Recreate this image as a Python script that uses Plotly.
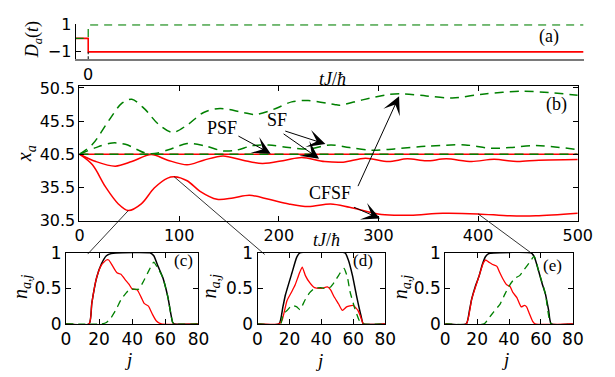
import plotly.graph_objects as go

W, H = 615, 377

# ---------------- data ----------------
# panel (a): driving D_a(t)
ta = [-12.7, 0, 0, 500]
Da_red = [0, 0, -1, -1]
Da_green = [0, 0, 1, 1]
t_mark = [0, 0]
D_mark = [-1.55, -1]

# panel (b): centre of mass x_a
t_gu = [0, 13, 29.5, 42.6, 52.5, 65.6, 78.7, 93.4, 108, 124.6, 141, 164, 177, 197, 213, 229.5, 255.7,
        261, 284, 309.7, 325.8, 348, 374, 406.4, 445, 471, 500]
x_gu = [40.5, 42.0, 45.6, 48.2, 48.8, 47.3, 45.1, 43.8, 44.9, 46.8, 47.4, 46.8, 46.5, 47.4, 48.4, 48.6, 48.0,
        47.9, 48.7, 49.5, 49.6, 49.3, 49.0, 49.6, 50.0, 49.8, 49.4]

t_gl = [0, 16.4, 32.8, 46, 65.6, 75.4, 91.8, 108, 124.6, 144, 157, 174, 190, 210, 229.5, 252, 271, 293.5,
        316, 348, 387, 413, 432, 458, 500]
x_gl = [40.5, 41.5, 42.2, 42.0, 40.7, 40.6, 41.3, 42.1, 41.8, 41.0, 41.1, 41.8, 41.9, 41.5, 41.3, 41.9, 41.5,
        41.1, 41.3, 41.7, 41.9, 41.4, 41.5, 41.8, 41.2]

t_rm = [0, 16.4, 36, 52.5, 72, 88.5, 108, 124.6, 144, 164, 183.6, 206.6, 223, 246, 264.5, 287, 310, 329,
        348, 368, 393.5, 416, 439, 461, 500]
x_rm = [40.5, 39.4, 38.7, 39.4, 40.45, 39.6, 38.9, 39.6, 40.25, 39.6, 39.1, 39.6, 40.0, 39.4, 39.3, 39.9,
        39.4, 39.8, 39.5, 39.8, 39.4, 39.74, 39.4, 39.6, 39.7]

t_rl = [0, 13, 26, 39, 49, 62, 75, 88.5, 95, 108, 121, 138, 154, 170.5, 190, 210, 229.5, 252, 271, 303,
        332, 364.5, 400, 432, 458, 500]
x_rl = [40.5, 38.9, 35.6, 33.0, 32.0, 33.0, 35.4, 36.9, 37.1, 36.5, 34.9, 33.7, 33.9, 34.3, 33.7, 33.0,
        32.6, 33.0, 32.5, 31.4, 31.3, 31.6, 31.5, 31.2, 31.2, 31.6]

t_flat = [0, 500]
x_flat = [40.5, 40.5]

# snapshot times (points on lower red curve) for panels c, d, e
snap_t = [49, 95, 400]
snap_x = [32.0, 37.1, 31.5]

# panel (c)
jc_k = [0, 14, 15.6, 18.5, 21.5, 24.4, 27.3, 30.2, 50.7, 53, 55.6, 58.5, 61.5, 64.4, 65.4, 80]
nc_k = [0, 0, 0.29, 0.65, 0.85, 0.96, 0.99, 1.0, 1.0, 0.96, 0.81, 0.65, 0.38, 0.02, 0, 0]
jc_r = [0, 14, 15.6, 18.5, 21.5, 24.4, 25.8, 28.3, 30.8, 33.2, 35.5, 38, 40, 42.9, 45.3, 47.2, 49.8, 52.3,
        54.6, 57.6, 80]
nc_r = [0, 0, 0.29, 0.65, 0.83, 0.9, 0.9, 0.81, 0.72, 0.7, 0.63, 0.56, 0.49, 0.48, 0.38, 0.29, 0.25, 0.13,
        0.04, 0, 0]
jc_g = [0, 21.5, 24.4, 27.3, 30.2, 33.2, 36.1, 38.6, 43.9, 46.8, 49.8, 52.3, 53, 55.6, 58.5, 61.5, 64.4,
        65.4, 80]
nc_g = [0, 0, 0.02, 0.09, 0.2, 0.34, 0.43, 0.49, 0.49, 0.6, 0.74, 0.85, 0.87, 0.78, 0.65, 0.38, 0.02, 0, 0]

# panel (d)
jd_k = [0, 13.5, 15.9, 17.5, 21.6, 24.6, 26.6, 54.8, 56.9, 59.5, 61.9, 64.9, 66.3, 80]
nd_k = [0, 0, 0.24, 0.41, 0.72, 0.94, 1.0, 1.0, 0.9, 0.68, 0.41, 0.11, 0, 0]
jd_r = [0, 13.5, 15.5, 18.5, 21.6, 23.6, 26, 28, 30, 32.7, 35.7, 39.7, 43.8, 45.8, 47.8, 50.8, 53.2, 55.8,
        59.9, 62.9, 64.9, 66.3, 80]
nd_r = [0, 0, 0.06, 0.33, 0.46, 0.55, 0.7, 0.8, 0.68, 0.58, 0.51, 0.5, 0.52, 0.48, 0.39, 0.28, 0.19, 0.24,
        0.26, 0.19, 0.08, 0, 0]
jd_g = [0, 14.5, 15.9, 18.5, 21.6, 24.6, 26.6, 29.6, 32.7, 35.7, 39.7, 42.7, 45.8, 48.8, 51.8, 54.2, 56.3,
        57.9, 60.9, 63.9, 65.9, 80]
nd_g = [0, 0, 0.13, 0.19, 0.26, 0.24, 0.2, 0.33, 0.44, 0.5, 0.51, 0.5, 0.52, 0.61, 0.72, 0.78, 0.66, 0.46,
        0.22, 0.04, 0, 0]

# panel (e)
je_k = [0, 13.2, 15.2, 16.6, 19.2, 21.3, 23.3, 25.3, 27.3, 30.4, 53.6, 55.7, 58.7, 60.7, 62.8, 64.8, 66.4, 80]
ne_k = [0, 0, 0.19, 0.35, 0.55, 0.68, 0.84, 0.95, 0.99, 1.0, 1.0, 0.95, 0.73, 0.57, 0.42, 0.19, 0, 0]
je_r = [0, 13.2, 16.6, 21.3, 23.9, 25.3, 27.3, 29.4, 32.4, 34, 36, 38.5, 40.5, 42.5, 44.9, 47.6, 49.6, 51,
        52.6, 54.7, 56.3, 80]
ne_r = [0, 0, 0.35, 0.68, 0.86, 0.9, 0.87, 0.84, 0.81, 0.73, 0.64, 0.55, 0.53, 0.44, 0.37, 0.24, 0.26, 0.24,
        0.15, 0.04, 0, 0]
je_g = [0, 24.3, 27.3, 30.4, 34.4, 37.4, 40.5, 43.5, 46.6, 49.6, 52.6, 55.7, 58.7, 62.8, 66.4, 80]
ne_g = [0, 0, 0.08, 0.17, 0.28, 0.42, 0.55, 0.64, 0.68, 0.77, 0.86, 0.95, 0.73, 0.42, 0, 0]

# ticks
xa_tick = [0]
ya_tick = [-1, 1]
ya_text = ["\u22121", "1"]
xb_tick = [0, 100, 200, 300, 400, 500]
yb_tick = [30.5, 35.5, 40.5, 45.5, 50.5]
xs_tick = [0, 20, 40, 60, 80]
ys_tick = [0, 0.5, 1]
ys_text = ["0", "0.5", "1"]

# ---------------- styling ----------------
RED = "#ff0000"
GREEN = "#008000"
TICKFONT = dict(family="DejaVu Sans, sans-serif", size=16, color="black")
SMALLTICK = dict(family="DejaVu Sans, sans-serif", size=17, color="black")
SERIF = "Liberation Serif, Times New Roman, serif"


def px(x):
    return x / W


def py(y):
    return 1 - y / H


fig = go.Figure()

# ----- panel (a)
fig.add_trace(go.Scatter(x=ta, y=Da_red, xaxis="x", yaxis="y", mode="lines",
                         line=dict(color=RED, width=1.6)))
fig.add_trace(go.Scatter(x=ta, y=Da_green, xaxis="x", yaxis="y", mode="lines",
                         line=dict(color=GREEN, width=1.2, dash="8px,6px")))
fig.add_trace(go.Scatter(x=t_mark, y=D_mark, xaxis="x", yaxis="y", mode="lines",
                         line=dict(color="black", width=1, dash="3px,2px")))

# ----- panel (b)
for tt, xx in [(t_flat, x_flat), (t_rm, x_rm), (t_rl, x_rl)]:
    fig.add_trace(go.Scatter(x=tt, y=xx, xaxis="x2", yaxis="y2", mode="lines",
                             line=dict(color=RED, width=1.5, shape="spline", smoothing=0.9)))
for tt, xx in [(t_flat, x_flat), (t_gl, x_gl), (t_gu, x_gu)]:
    fig.add_trace(go.Scatter(x=tt, y=xx, xaxis="x2", yaxis="y2", mode="lines",
                             line=dict(color=GREEN, width=1.5, dash="9px,6px", shape="spline", smoothing=0.9)))

# ----- panels (c),(d),(e)
for k, (jr, nr, jg, ng, jk, nk) in enumerate([(jc_r, nc_r, jc_g, nc_g, jc_k, nc_k),
                                               (jd_r, nd_r, jd_g, nd_g, jd_k, nd_k),
                                               (je_r, ne_r, je_g, ne_g, je_k, ne_k)]):
    xa, ya = "x%d" % (k + 3), "y%d" % (k + 3)
    fig.add_trace(go.Scatter(x=jk, y=nk, xaxis=xa, yaxis=ya, mode="lines",
                             line=dict(color="black", width=1.5, shape="spline", smoothing=0.5)))
    fig.add_trace(go.Scatter(x=jr, y=nr, xaxis=xa, yaxis=ya, mode="lines",
                             line=dict(color=RED, width=1.3, shape="spline", smoothing=0.5)))
    fig.add_trace(go.Scatter(x=jg, y=ng, xaxis=xa, yaxis=ya, mode="lines",
                             line=dict(color=GREEN, width=1.3, dash="7px,5px", shape="spline", smoothing=0.5)))

# ---------------- axes ----------------
common = dict(showgrid=False, zeroline=False, ticks="inside", ticklen=5, tickcolor="black",
              tickfont=TICKFONT, linecolor="black", linewidth=1, showline=True)

layout = dict(
    width=W, height=H, autosize=False,
    margin=dict(l=0, r=0, t=0, b=0),
    paper_bgcolor="white", plot_bgcolor="rgba(0,0,0,0)",
    showlegend=False,
    xaxis=dict(common, domain=[px(73), px(598)], range=[-12.7, 500], tickvals=xa_tick,
               linecolor="#7a7a7a", linewidth=2, anchor="y", ticks=""),
    yaxis=dict(common, domain=[py(52), py(15)], range=[-1.55, 1.05], tickvals=ya_tick,
               ticktext=ya_text, anchor="x"),
    xaxis2=dict(common, domain=[px(77), px(592)], range=[0, 500], tickvals=xb_tick,
                mirror="ticks", anchor="y2"),
    yaxis2=dict(common, domain=[py(222.3), py(80)], range=[30.5, 50.83], tickvals=yb_tick,
                mirror="ticks", anchor="x2"),
)
xdoms = [(63, 200), (261, 393), (455, 587)]
for k, (l, r) in enumerate(xdoms):
    n = k + 3
    layout["xaxis%d" % n] = dict(common, domain=[px(l), px(r)], range=[0, 80], tickvals=xs_tick,
                                 mirror="ticks", anchor="y%d" % n, tickfont=SMALLTICK)
    layout["yaxis%d" % n] = dict(common, domain=[py(331.5), py(256.5)], range=[0, 1], tickvals=ys_tick,
                                 ticktext=ys_text, mirror="ticks", anchor="x%d" % n, tickfont=SMALLTICK)
fig.update_layout(**layout)

# ---------------- annotations ----------------
ann = []


def label(text, x, y, size=18, angle=0):
    ann.append(dict(text=text, x=px(x), y=py(y), xref="paper", yref="paper", showarrow=False,
                    font=dict(family=SERIF, size=size, color="black"), textangle=angle,
                    xanchor="center", yanchor="middle"))


tJ = "<i>tJ</i>/<i>\u0127</i>"
label("(a)", 562, 28, 18)
label("(b)", 570, 100, 18)
label("(c)", 185, 265, 17)
label("(d)", 370, 265, 17)
label("(e)", 566, 270, 17)
label(tJ, 338, 73, 18)
label(tJ, 332, 243, 18)
label("<i>D<sub>a</sub></i>(<i>t</i>)", 29, 32, 18, -90)
label("<i>x<sub>a</sub></i>", 22, 152, 20, -90)
for xx in (17, 212, 410):
    label("<i>n<sub>a,j</sub></i>", xx, 292, 20, -90)
for xx, yy in ((127, 369), (325, 370), (517, 369)):
    label("<i>j</i>", xx, yy, 19)

# text labels in panel (b)
for txt, t0, x0 in (("PSF", 143, 44.4), ("SF", 198.5, 45.6), ("CFSF", 251.6, 34.7)):
    ann.append(dict(text=txt, x=t0, y=x0, xref="x2", yref="y2", showarrow=False,
                    font=dict(family=SERIF, size=18, color="black")))

# arrows (head, tail) in data coords of panel (b)
arrows = [((191.9, 40.59), (158, 43.36)),
          ((246.8, 42.03), (205, 44.07)),
          ((240.4, 39.83), (203.3, 43.73)),
          ((320.7, 49.26), (278.8, 35.46)),
          ((301.5, 30.8), (274, 32.6))]
for (hx, hy), (tx, ty) in arrows:
    ann.append(dict(text="", x=hx, y=hy, ax=tx, ay=ty, xref="x2", yref="y2", axref="x2", ayref="y2",
                    showarrow=True, arrowhead=3, arrowsize=3, arrowwidth=1, arrowcolor="black",
                    standoff=0, startstandoff=0))

# connectors from snapshot points to insets (pixel offsets)
offsets = [(-42, 45), (92, 79), (57, 42)]
for t0, x0, (dx, dy) in zip(snap_t, snap_x, offsets):
    ann.append(dict(text="", x=t0, y=x0, xref="x2", yref="y2", ax=dx, ay=dy,
                    showarrow=True, arrowhead=0, arrowwidth=0.8, arrowcolor="black",
                    standoff=0, startstandoff=0))

fig.update_layout(annotations=ann)
fig.write_html("out.html", config={"displayModeBar": False},
               post_script="document.body.style.margin='0';document.body.style.overflow='hidden';")
